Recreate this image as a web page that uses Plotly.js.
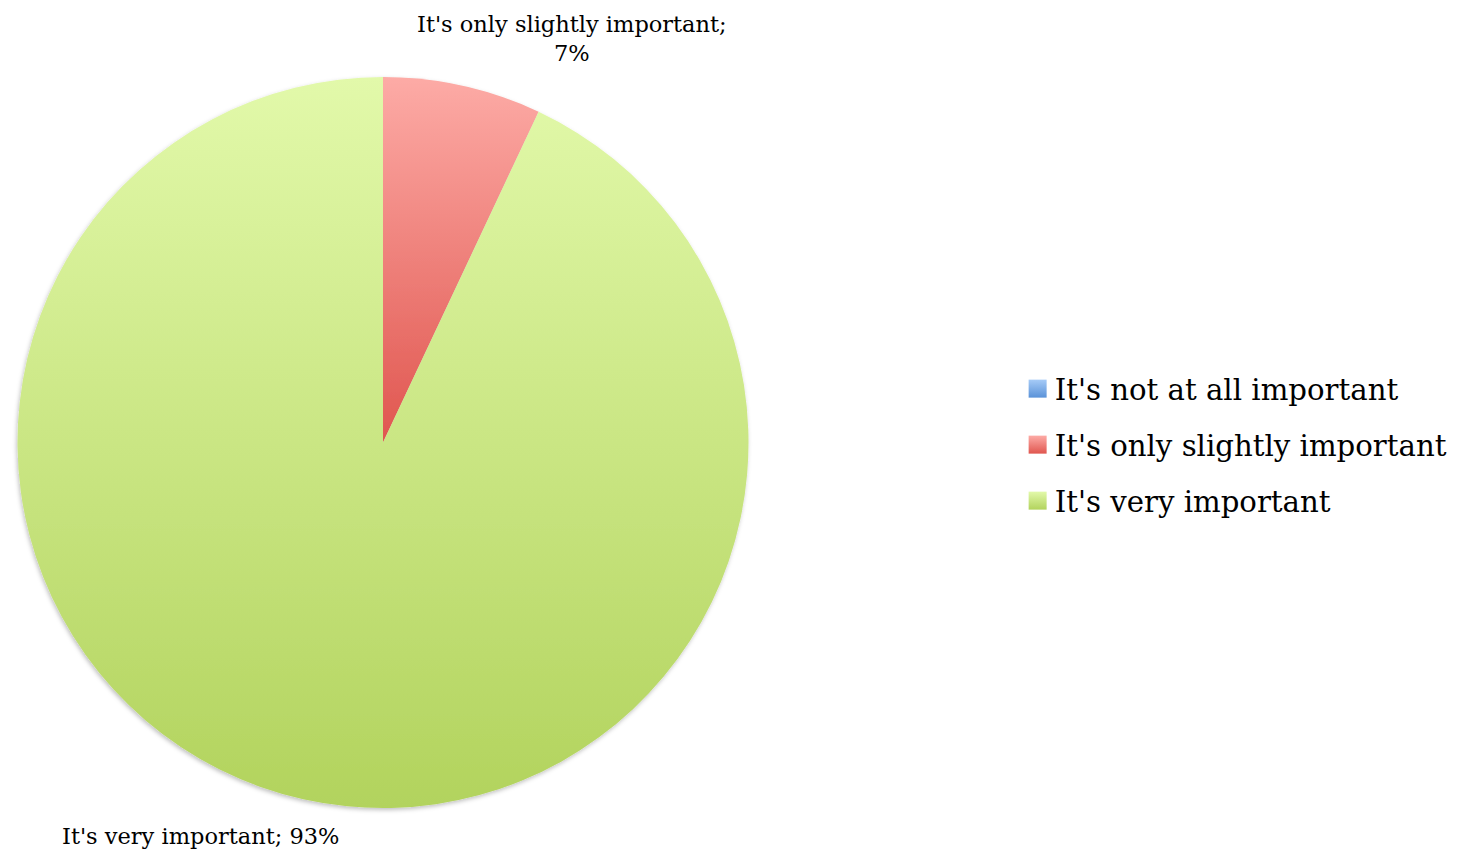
<!DOCTYPE html>
<html>
<head>
<meta charset="utf-8">
<script src="https://cdn.plot.ly/plotly-3.0.1.min.js"></script>
<style>
  html, body { margin: 0; padding: 0; background: #ffffff; }
  #chart { width: 1462px; height: 851px; }
</style>
</head>
<body>
<div id="chart"></div>
<script>
const categories = ["It's not at all important", "It's only slightly important", "It's very important"];
const values = [0, 7, 93];
const gradientTops = ["#a6cbf7", "#fdaba6", "#e2f9aa"];
const gradientBottoms = ["#5a92d8", "#e0564f", "#b2d35d"];

const total = values.reduce((a, b) => a + b, 0);
const pct = values.map(v => Math.round(v / total * 100) + "%");

const FONT = "DejaVu Serif, Liberation Serif, serif";

const trace = {
  type: "pie",
  labels: categories,
  values: values,
  sort: false,
  direction: "clockwise",
  rotation: 0,
  textinfo: "none",
  hoverinfo: "label+percent",
  marker: { colors: gradientBottoms, line: { width: 0 } },
  domain: { x: [(383 - 366) / 1462, (383 + 366) / 1462], y: [0, 1] },
  showlegend: true
};

const layout = {
  width: 1462,
  height: 851,
  margin: { l: 0, r: 0, t: 77, b: 43 },
  paper_bgcolor: "#ffffff",
  font: { family: FONT, color: "#000000" },
  showlegend: true,
  legend: {
    x: 0.694, xanchor: "left",
    y: 0.497, yanchor: "middle",
    font: { family: FONT, size: 29.2, color: "#000000" },
    itemwidth: 30,
    traceorder: "normal"
  },
  annotations: [
    {
      text: categories[1] + ";<br>" + pct[1],
      xref: "paper", yref: "paper",
      x: 572 / 1462, y: 1 + (77 - 39) / 731,
      xanchor: "center", yanchor: "middle",
      showarrow: false, align: "center",
      font: { family: FONT, size: 22.5, color: "#000000" }
    },
    {
      text: categories[2] + "; " + pct[2],
      xref: "paper", yref: "paper",
      x: 60 / 1462, y: -(836 - 808) / 731,
      xanchor: "left", yanchor: "middle",
      showarrow: false, align: "left",
      font: { family: FONT, size: 22.5, color: "#000000" }
    }
  ]
};

Plotly.newPlot("chart", [trace], layout, { displayModeBar: false, staticPlot: true }).then(gd => {
  const svg = gd.querySelector("svg.main-svg");
  const ns = "http://www.w3.org/2000/svg";
  let defs = svg.querySelector("defs");
  if (!defs) { defs = document.createElementNS(ns, "defs"); svg.insertBefore(defs, svg.firstChild); }
  categories.forEach((c, i) => {
    const lg = document.createElementNS(ns, "linearGradient");
    lg.setAttribute("id", "grad" + i);
    lg.setAttribute("x1", "0"); lg.setAttribute("y1", "0");
    lg.setAttribute("x2", "0"); lg.setAttribute("y2", "1");
    const s1 = document.createElementNS(ns, "stop");
    s1.setAttribute("offset", "0"); s1.setAttribute("stop-color", gradientTops[i]);
    const s2 = document.createElementNS(ns, "stop");
    s2.setAttribute("offset", "1"); s2.setAttribute("stop-color", gradientBottoms[i]);
    lg.appendChild(s1); lg.appendChild(s2);
    defs.appendChild(lg);
  });
  const f = document.createElementNS(ns, "filter");
  f.setAttribute("id", "pieShadow");
  f.setAttribute("x", "-5%"); f.setAttribute("y", "-5%");
  f.setAttribute("width", "110%"); f.setAttribute("height", "110%");
  f.innerHTML = '<feDropShadow dx="-1" dy="2" stdDeviation="2" flood-color="#000" flood-opacity="0.25"/>';
  defs.appendChild(f);

  gd.querySelectorAll("g.slice path.surface").forEach(p => {
    const d = p.__data__;
    if (d && d.i !== undefined) p.style.fill = "url(#grad" + d.i + ")";
  });
  const trGroup = gd.querySelector("g.pielayer g.trace");
  if (trGroup) trGroup.setAttribute("filter", "url(#pieShadow)");

  // legend: larger swatches and roomier rows
  const legend = gd.querySelector("g.legend");
  legend.querySelectorAll("[clip-path]").forEach(el => el.removeAttribute("clip-path"));
  const items = Array.from(legend.querySelectorAll("g.traces"));
  const parse = t => { const m = /translate\(\s*([-\d.]+)[ ,]+([-\d.]+)/.exec(t || ""); return m ? [+m[1], +m[2]] : [0, 0]; };
  const mid = Math.floor(items.length / 2);
  const [mx, my] = parse(items[mid].getAttribute("transform"));
  items.forEach((g, k) => {
    g.setAttribute("transform", "translate(" + mx + "," + (my + (k - mid) * 56) + ")");
    const d = g.__data__;
    let idx = k;
    if (d && d[0] && d[0].i !== undefined) idx = d[0].i;
    const p = g.querySelector("path.legendpie");
    if (p) {
      p.setAttribute("d", "M-6,-9h18v18h-18Z");
      p.style.fill = "url(#grad" + idx + ")";
      p.style.strokeWidth = "0";
    }
  });
});
</script>
</body>
</html>
